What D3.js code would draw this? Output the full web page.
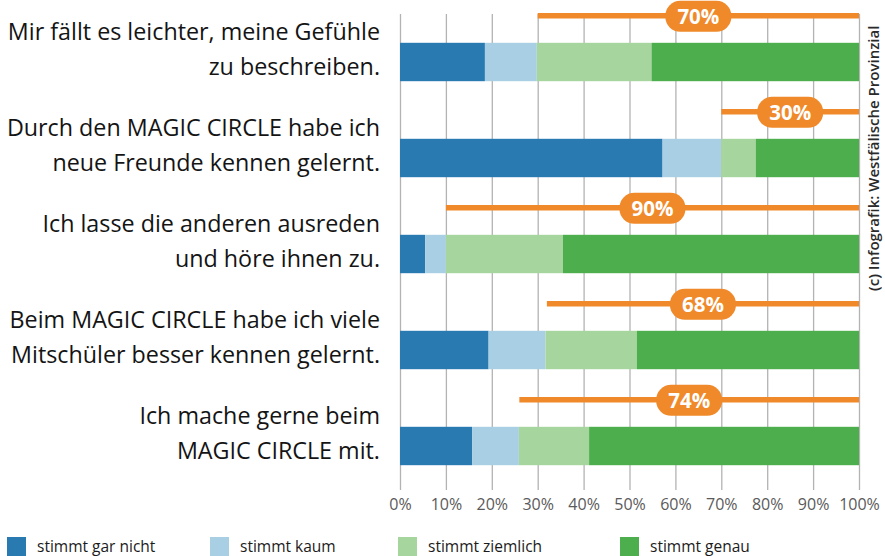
<!DOCTYPE html>
<html>
<head>
<meta charset="utf-8">
<script src="https://cdn.jsdelivr.net/npm/d3@7"></script>
<style>
    body { margin: 0; background: #fff; }
    #chart { width: 885px; height: 556px; }
    .statement { font-family: "Open Sans", sans-serif; font-size: 23.3px; font-weight: 500; fill: #141414; }
    .axis text { font-family: "Open Sans", sans-serif; font-size: 16px; fill: #5a5a5a; }
    .axis line { stroke: #b3b3b3; stroke-width: 1.3px; }
    .legend text { font-family: "Open Sans", sans-serif; font-size: 15.5px; fill: #1b1b1b; }
    .badge text { font-family: "Open Sans", sans-serif; font-size: 20.5px; font-weight: 700; fill: #fff; }
    .credit { font-family: "Open Sans", sans-serif; font-size: 15px; font-weight: 600; fill: #2a2a2a; }
</style>
</head>
<body>
<div id="chart"></div>
<script>

// statements (two lines each)
let statements = [
    ["Mir fällt es leichter, meine Gefühle", "zu beschreiben."],
    ["Durch den MAGIC CIRCLE habe ich", "neue Freunde kennen gelernt."],
    ["Ich lasse die anderen ausreden", "und höre ihnen zu."],
    ["Beim MAGIC CIRCLE habe ich viele", "Mitschüler besser kennen gelernt."],
    ["Ich mache gerne beim", "MAGIC CIRCLE mit."]
];

// answer shares in percent, per statement
let garNicht = [18.5, 57.2, 5.5, 19.3, 15.7];
let kaum     = [11.3, 12.8, 4.5, 12.4, 10.2];
let ziemlich = [25.0, 7.5, 25.5, 19.9, 15.3];
let genau    = [45.2, 22.5, 64.5, 48.4, 58.8];

// "stimmt ziemlich" + "stimmt genau", as printed on the badges
let agree = [70, 30, 90, 68, 74];

let answerKeys = ["garNicht", "kaum", "ziemlich", "genau"];
let answerLabels = ["stimmt gar nicht", "stimmt kaum", "stimmt ziemlich", "stimmt genau"];
let answerColors = ["#2a7ab2", "#a9cfe5", "#a6d59e", "#4cae4c"];

let tickValues = [0, 10, 20, 30, 40, 50, 60, 70, 80, 90, 100];

class StackedBarVis {

    constructor(parentElement) {
        this.parentElement = parentElement;
        this.initVis();
    }

    initVis() {
        let vis = this;

        vis.width = 885;
        vis.height = 556;

        vis.svg = d3.select("#" + vis.parentElement).append("svg")
            .attr("width", vis.width)
            .attr("height", vis.height);

        vis.x = d3.scaleLinear()
            .domain([0, 100])
            .range([400, 859]);

        vis.y = d3.scaleBand()
            .domain(d3.range(statements.length))
            .range([14, 494])
            .paddingInner(0.6)
            .paddingOuter(0.3);

        vis.color = d3.scaleOrdinal()
            .domain(answerKeys)
            .range(answerColors);

        vis.wrangleData();
    }

    wrangleData() {
        let vis = this;

        vis.rows = statements.map((s, i) => ({
            index: i,
            garNicht: garNicht[i],
            kaum: kaum[i],
            ziemlich: ziemlich[i],
            genau: genau[i],
            agree: agree[i]
        }));

        vis.series = d3.stack().keys(answerKeys)(vis.rows);

        vis.updateVis();
    }

    updateVis() {
        let vis = this;

        // grid lines + tick labels
        vis.xAxis = d3.axisBottom(vis.x)
            .tickValues(tickValues)
            .tickFormat(d => d + "%")
            .tickSize(-(490 - 14))
            .tickPadding(9);

        vis.svg.append("g")
            .attr("class", "axis x-axis")
            .attr("transform", "translate(0,490)")
            .call(vis.xAxis)
            .call(g => g.select(".domain").remove());

        // stacked bars
        vis.svg.append("g")
            .selectAll("g")
            .data(vis.series)
            .enter()
            .append("g")
            .attr("fill", d => vis.color(d.key))
            .selectAll("rect")
            .data(d => d)
            .enter()
            .append("rect")
            .attr("x", d => vis.x(d[0]))
            .attr("width", d => vis.x(d[1]) - vis.x(d[0]))
            .attr("y", d => vis.y(d.data.index))
            .attr("height", vis.y.bandwidth());

        // orange agreement brackets with badge
        let badges = vis.svg.selectAll(".badge")
            .data(vis.rows)
            .enter()
            .append("g")
            .attr("class", "badge")
            .attr("transform", d => `translate(0, ${vis.y(d.index) - 27})`);

        badges.append("line")
            .attr("x1", d => vis.x(100 - d.agree))
            .attr("x2", vis.x(100))
            .attr("stroke", "#f0892a")
            .attr("stroke-width", 5.5);

        badges.append("rect")
            .attr("x", d => (vis.x(100 - d.agree) + vis.x(100)) / 2 - 33)
            .attr("y", -15)
            .attr("width", 66)
            .attr("height", 31)
            .attr("rx", 15)
            .attr("fill", "#f0892a");

        badges.append("text")
            .attr("x", d => (vis.x(100 - d.agree) + vis.x(100)) / 2)
            .attr("y", 8)
            .attr("text-anchor", "middle")
            .text(d => d.agree + "%");

        // statement labels
        let labels = vis.svg.selectAll(".statement")
            .data(statements)
            .enter()
            .append("text")
            .attr("class", "statement")
            .attr("text-anchor", "end")
            .attr("transform", (d, i) => `translate(380, ${vis.y(i) + vis.y.bandwidth() / 2})`);

        labels.selectAll("tspan")
            .data(d => d)
            .enter()
            .append("tspan")
            .attr("x", 0)
            .attr("y", (d, j) => j === 0 ? -22 : 13)
            .text(d => d);

        // legend
        let legendX = [7, 210, 398, 620];
        let legend = vis.svg.append("g")
            .attr("class", "legend")
            .selectAll("g")
            .data(answerKeys)
            .enter()
            .append("g")
            .attr("transform", (d, i) => `translate(${legendX[i]}, 537)`);

        legend.append("rect")
            .attr("width", 19)
            .attr("height", 19)
            .attr("fill", d => vis.color(d));

        legend.append("text")
            .attr("x", 30)
            .attr("y", 15)
            .text((d, i) => answerLabels[i]);

        // credit
        vis.svg.append("text")
            .attr("class", "credit")
            .attr("transform", "translate(879, 291) rotate(-90)")
            .text("(c) Infografik: Westfälische Provinzial");
    }
}

new StackedBarVis("chart");

</script>
</body>
</html>
